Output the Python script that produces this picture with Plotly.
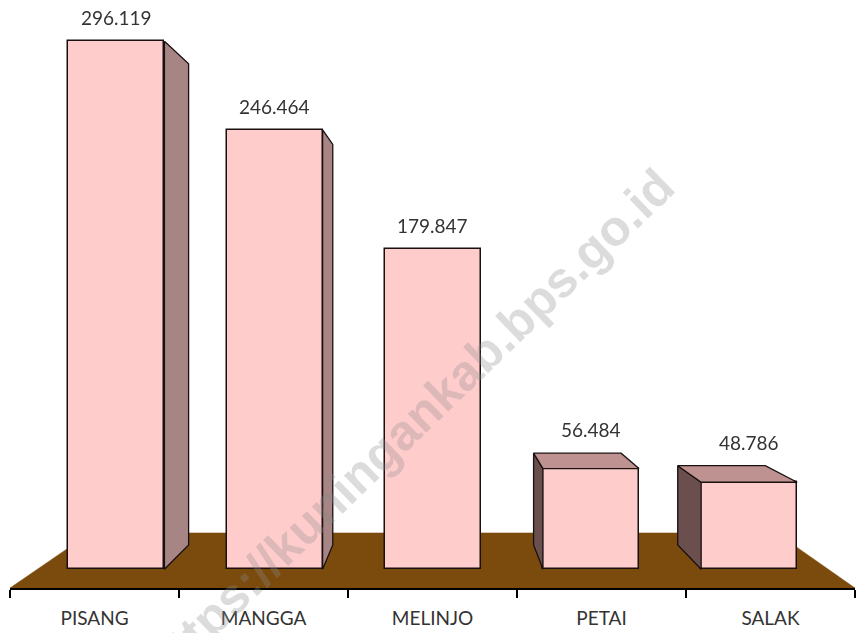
import plotly.graph_objects as go

# ---- data ----
categories = ["PISANG", "MANGGA", "MELINJO", "PETAI", "SALAK"]
values = [296.119, 246.464, 179.847, 56.484, 48.786]
value_labels = ["296.119", "246.464", "179.847", "56.484", "48.786"]

# ---- perspective geometry (in axis data units) ----
VX, VY = 2.027, 153.8          # vanishing point
S_FRONT, S_BACK = 0.936, 0.853  # scale of bar front / back faces
S_FLOOR_BACK = 0.812            # scale of floor back edge
BAR_W = 0.607                   # bar width in world units

FRONT = "#FFCCCC"
RIGHT_SIDE = "#A88585"
LEFT_SIDE = "#6B4E4E"
TOP_SIDE = "#BF9292"
FLOOR = "#7B4B0E"
EDGE = "#1a1010"


def proj(x, y, s):
    return VX + s * (x - VX), VY + s * (y - VY)


fig = go.Figure()

# floor
fx, fy = [], []
for (x, s) in [(-0.5, 1.0), (4.5, 1.0), (4.5, S_FLOOR_BACK), (-0.5, S_FLOOR_BACK)]:
    px, py = proj(x, 0, s)
    fx.append(px)
    fy.append(py)
fig.add_trace(go.Scatter(x=fx + [fx[0]], y=fy + [fy[0]], fill="toself", fillcolor=FLOOR,
                         mode="lines", line=dict(color=FLOOR, width=0.5),
                         xaxis="x", yaxis="y", hoverinfo="skip", showlegend=False))

# category axis carrier (invisible)
fig.add_trace(go.Scatter(x=categories, y=values, mode="markers", opacity=0,
                         xaxis="x2", yaxis="y", hoverinfo="skip", showlegend=False))

# side / top faces
def face(pts, color):
    xs = [p[0] for p in pts] + [pts[0][0]]
    ys = [p[1] for p in pts] + [pts[0][1]]
    fig.add_trace(go.Scatter(x=xs, y=ys, fill="toself", fillcolor=color, mode="lines",
                             line=dict(color=EDGE, width=1.3), xaxis="x3", yaxis="y",
                             hoverinfo="skip", showlegend=False))

front_x, label_y = [], []
for i, v in enumerate(values):
    xl, xr = i - BAR_W / 2, i + BAR_W / 2
    if xr < VX:  # right side visible
        face([proj(xr, v, S_FRONT), proj(xr, v, S_BACK), proj(xr, 0, S_BACK), proj(xr, 0, S_FRONT)], RIGHT_SIDE)
    if xl > VX:  # left side visible
        face([proj(xl, v, S_FRONT), proj(xl, v, S_BACK), proj(xl, 0, S_BACK), proj(xl, 0, S_FRONT)], LEFT_SIDE)
    if v < VY:  # top visible
        face([proj(xl, v, S_FRONT), proj(xl, v, S_BACK), proj(xr, v, S_BACK), proj(xr, v, S_FRONT)], TOP_SIDE)
    cx, ty = proj(i, v, S_FRONT)
    _, tyb = proj(i, v, S_BACK)
    front_x.append(cx)
    label_y.append(max(ty, tyb))

base = proj(0, 0, S_FRONT)[1]
fig.add_trace(go.Bar(x=front_x, y=[S_FRONT * v for v in values], base=base,
                     width=S_FRONT * BAR_W, marker=dict(color=FRONT, line=dict(color=EDGE, width=1.5)),
                     xaxis="x3", yaxis="y", hoverinfo="skip", showlegend=False))

for cx, ly, t in zip(front_x, label_y, value_labels):
    fig.add_annotation(x=cx, y=ly, xref="x3", yref="y", text=t, showarrow=False,
                       yanchor="bottom", yshift=10, font=dict(family="Lato", size=19, color="#333333"))

# watermark
fig.add_annotation(x=0.473, y=0.278, xref="paper", yref="paper", xanchor="center", yanchor="middle",
                   text="<b>https://kuningankab.bps.go.id</b>",
                   showarrow=False, textangle=-44,
                   font=dict(family="Liberation Sans", size=50, color="rgba(140,140,140,0.3)"))

fig.update_layout(
    width=857, height=633,
    margin=dict(l=10, r=2, t=0, b=45),
    paper_bgcolor="white", plot_bgcolor="rgba(0,0,0,0)",
    bargap=0,
    xaxis=dict(range=[-0.5, 4.5], visible=False, fixedrange=True),
    xaxis2=dict(type="category", categoryarray=categories, categoryorder="array",
                overlaying="x", range=[-0.5, 4.5], tickson="boundaries", ticks="outside",
                ticklen=8, tickwidth=2, tickcolor="black", showline=True, linewidth=2,
                linecolor="black", showgrid=False, zeroline=False, ticklabelstandoff=12,
                tickfont=dict(family="Lato", size=19, color="#333333"), fixedrange=True),
    xaxis3=dict(range=[-0.5, 4.5], overlaying="x", visible=False, fixedrange=True),
    yaxis=dict(range=[0, 308.7], visible=False, fixedrange=True),
)

fig.write_html("out.html", config={"displayModeBar": False},
               post_script="document.body.style.margin='0';document.body.style.padding='0';document.body.style.overflow='hidden';")
